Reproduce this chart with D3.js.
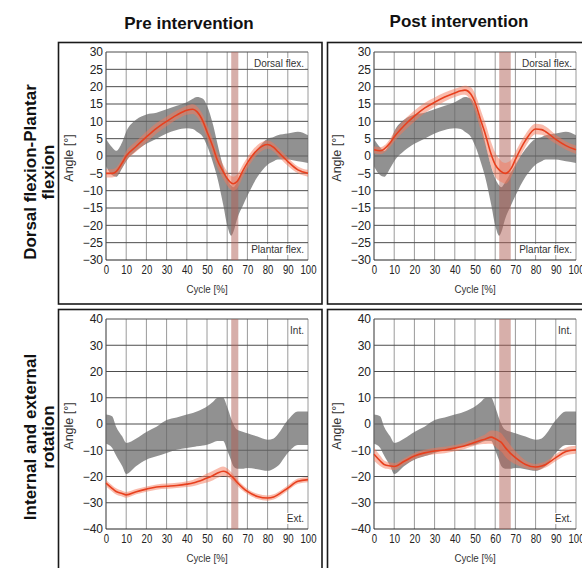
<!DOCTYPE html>
<html><head><meta charset="utf-8">
<script src="https://cdn.jsdelivr.net/npm/d3@7"></script>
<style>body{margin:0;background:#fff}svg{display:block}</style>
</head><body><svg id="c" width="582" height="568"></svg>
<script>
// ---- data ----
const cycle      = [0,3,5,8,10,15,20,25,30,35,40,43,45,48,50,53,55,58,60,62,63,65,68,70,75,80,83,85,90,95,100];
// normative band (same for pre and post)
const normDfLo   = [-3,-5.5,-6,-3.5,-1.5,1.5,3.5,5,6.5,7.5,8,7.8,7,5.5,3,-2,-6,-14,-20,-23,-22,-18,-14,-11.5,-6,-2.5,-1.5,-1,-1,-1.5,-2];
const normDfHi   = [5,2.5,1.5,4,7,10.5,12,12.5,13.5,14.5,15.5,16.5,17,16.5,14.5,9,4,-3,-6.5,-8.5,-9,-7.5,-4.5,-2.5,2,5,5.5,6,6.5,7,6];
const preDfMean  = [-5,-5,-4.5,-2,0,2.8,5.5,8,10,11.8,13.2,13.5,12.8,10,7,2.5,-1,-4.5,-6.5,-7.8,-8,-7.3,-4,-2,1.8,3.3,2.5,1.3,-1.6,-4,-5];
const preDfSd    = [1.2,1.2,1.2,1.3,1.4,1.5,1.6,1.5,1.4,1.3,1.3,1.4,1.5,1.8,2,2.2,2.2,2,2,2,2,2,1.8,1.6,1.4,1.2,1.2,1.2,1.2,1,1];
const postDfMean = [1.8,1.5,2,3.8,5.5,8.8,11.5,13.8,15.5,17,18.2,18.8,19,17.8,15.5,10,6.5,0.5,-2.5,-4,-4.5,-5,-3.5,-1,4.5,7.8,7.6,7,4.8,3,1.8];
const postDfSd   = [1,1,1,1.2,1.4,1.6,1.6,1.5,1.4,1.3,1.2,1.2,1.3,2,2.5,3,3.2,3.5,3.5,3.2,3,3,2.5,2.2,1.8,1.5,1.5,1.5,1.3,1.2,1.2];
const normRotLo  = [-7.5,-9,-12,-16,-19,-16,-13.6,-12.3,-11,-9.8,-9.1,-8.8,-8.5,-8.2,-7.9,-7,-6.5,-6.5,-10,-14,-16,-17,-17,-16.8,-17.2,-17.8,-17,-16,-11,-8,-8];
const normRotHi  = [3.6,3,-1,-4.7,-7.2,-5.5,-3,-1,1.5,2.5,3.6,4.2,4.8,5.8,6.7,8.5,9.9,10,6.5,2,0,-2.2,-3,-3.5,-4.8,-6,-5.5,-4,1.5,4.8,4.8];
const preRotMean = [-22.5,-24.5,-25.7,-26.5,-27,-25.8,-24.8,-24,-23.7,-23.4,-22.9,-22.5,-22,-21.2,-20.6,-19.6,-18.8,-18,-18.5,-19.8,-20.5,-22.3,-24.5,-25.7,-27.6,-28.2,-27.8,-27,-24.4,-21.8,-21.2];
const preRotSd   = [1.2,1.2,1.2,1.1,1.1,1,1,1,1,1,1.1,1.2,1.3,1.5,1.7,1.8,1.8,1.8,1.6,1.4,1.3,1.2,1.1,1,1,1,1,1,1,1,1];
const postRotMean= [-11.5,-14,-15.4,-16,-16.2,-14.2,-12.2,-11,-10.3,-9.9,-9.2,-8.7,-8.3,-7.5,-7,-6.2,-5.8,-5,-5.6,-6.5,-7,-9,-11.5,-12.8,-15.4,-16.4,-16,-15.4,-12.8,-10.5,-9.8];
const postRotSd  = [2.5,2,1.5,1.3,1.3,1.2,1.2,1.2,1.2,1.2,1.2,1.2,1.2,1.2,1.2,1.5,1.8,2.5,3,3.5,3.5,3.5,3,2.5,1.5,1.2,1.2,1.2,1.3,1.5,1.5];

const cycleTicks = [0,10,20,30,40,50,60,70,80,90,100];
const dfTicks    = [-30,-25,-20,-15,-10,-5,0,5,10,15,20,25,30];
const rotTicks   = [-40,-30,-20,-10,0,10,20,30,40];
const preEvent   = [62,65.5];
const postEvent  = [62,67.7];
const columnTitles = ["Pre intervention","Post intervention"];
const rowTitles  = [["Dorsal flexion-Plantar","flexion"],["Internal and external","rotation"]];
const dfNotes    = ["Dorsal flex.","Plantar flex."];
const rotNotes   = ["Int.","Ext."];

// ---- layout ----
const svg = d3.select("#c");
svg.append("rect").attr("width",582).attr("height",568).attr("fill","#fff");
const colX = [[106,308],[374,576]];
const rowY = [[52,260],[319,529]];
const frameX = [[58.5,322],[327.5,592]];
const frameY = [[42.5,304],[309.5,578]];
const FONT = "'Liberation Sans', Arial, sans-serif";

const panels = [
  {r:0,c:0,domain:[-30,30],ticks:dfTicks,lo:normDfLo,hi:normDfHi,mean:preDfMean,sd:preDfSd,ev:preEvent,notes:dfNotes},
  {r:0,c:1,domain:[-30,30],ticks:dfTicks,lo:normDfLo,hi:normDfHi,mean:postDfMean,sd:postDfSd,ev:postEvent,notes:dfNotes},
  {r:1,c:0,domain:[-40,40],ticks:rotTicks,lo:normRotLo,hi:normRotHi,mean:preRotMean,sd:preRotSd,ev:preEvent,notes:rotNotes},
  {r:1,c:1,domain:[-40,40],ticks:rotTicks,lo:normRotLo,hi:normRotHi,mean:postRotMean,sd:postRotSd,ev:postEvent,notes:rotNotes},
];

panels.forEach(p => {
  const [x0,x1] = colX[p.c], [y0,y1] = rowY[p.r];
  const x = d3.scaleLinear().domain([0,100]).range([x0,x1]);
  const y = d3.scaleLinear().domain(p.domain).range([y1,y0]);
  const g = svg.append("g");
  // frame
  g.append("rect").attr("x",frameX[p.c][0]).attr("y",frameY[p.r][0])
    .attr("width",frameX[p.c][1]-frameX[p.c][0]).attr("height",frameY[p.r][1]-frameY[p.r][0])
    .attr("fill","none").attr("stroke","#1a1a1a").attr("stroke-width",1.6);
  // grid
  g.selectAll(".vg").data(cycleTicks).join("line")
    .attr("x1",d=>x(d)).attr("x2",d=>x(d)).attr("y1",y0).attr("y2",y1)
    .attr("stroke",d=>d===0?"#333":"#9a9a9a").attr("stroke-width",1);
  g.selectAll(".hg").data(p.ticks).join("line")
    .attr("x1",x0).attr("x2",x1).attr("y1",d=>y(d)).attr("y2",d=>y(d))
    .attr("stroke",d=>d===p.domain[0]?"#222":"#4d4d4d").attr("stroke-width",1);
  // normative band
  const idx = d3.range(cycle.length);
  const area = (lo,hi) => d3.area().x(i=>x(cycle[i])).y0(i=>y(lo(i))).y1(i=>y(hi(i))).curve(d3.curveMonotoneX);
  g.append("path").datum(idx).attr("d",area(i=>p.lo[i],i=>p.hi[i]))
    .attr("fill","#666").attr("fill-opacity",0.72);
  // event band
  g.append("rect").attr("x",x(p.ev[0])).attr("width",x(p.ev[1])-x(p.ev[0]))
    .attr("y",y0).attr("height",y1-y0).attr("fill","rgb(175,95,85)").attr("fill-opacity",0.5);
  // SD band
  g.append("path").datum(idx).attr("d",area(i=>p.mean[i]-p.sd[i],i=>p.mean[i]+p.sd[i]))
    .attr("fill","rgb(245,120,90)").attr("fill-opacity",0.5);
  // mean line
  g.append("path").datum(idx)
    .attr("d",d3.line().x(i=>x(cycle[i])).y(i=>y(p.mean[i])).curve(d3.curveMonotoneX))
    .attr("fill","none").attr("stroke","#e8401e").attr("stroke-width",1.6);
  // axes (labels only)
  const ya = g.append("g").attr("transform",`translate(${x0},0)`)
    .call(d3.axisLeft(y).tickValues(p.ticks).tickSize(0).tickPadding(3));
  ya.select(".domain").remove();
  ya.selectAll("text").attr("font-family",FONT).attr("font-size",12).attr("fill","#222");
  const xa = g.append("g").attr("transform",`translate(0,${y1})`)
    .call(d3.axisBottom(x).tickValues(cycleTicks).tickSize(0).tickPadding(5));
  xa.select(".domain").remove();
  xa.selectAll("text").attr("font-family",FONT).attr("font-size",12).attr("fill","#222")
    .attr("transform","scale(0.8,1)");
  // axis titles
  g.append("text").attr("transform",`translate(${(x0+x1)/2},${y1+33}) scale(0.85,1)`)
    .attr("text-anchor","middle").attr("font-family",FONT).attr("font-size",11.5).attr("fill","#333").text("Cycle [%]");
  g.append("text").attr("transform",`translate(${x0-33},${(y0+y1)/2+2}) rotate(-90)`)
    .attr("text-anchor","middle").attr("font-family",FONT).attr("font-size",12.5).attr("fill","#333").text("Angle [°]");
  // notes
  const noteY = [y(p.domain[1])+11, y(p.domain[0])-11];
  p.notes.forEach((t,k)=>{
    const tx = g.append("text").attr("x",x1-4).attr("y",noteY[k]+4)
      .attr("text-anchor","end").attr("font-family",FONT).attr("font-size",10).attr("fill","#333").text(t);
    const b = tx.node().getBBox();
    g.insert("rect", () => tx.node()).attr("x",b.x-1).attr("y",b.y).attr("width",b.width+2).attr("height",b.height).attr("fill","#fff");
  });
});

// column titles
[[189,29],[459,27]].forEach((pos,i)=>{
  svg.append("text").attr("x",pos[0]).attr("y",pos[1]).attr("text-anchor","middle")
    .attr("font-family",FONT).attr("font-weight","bold").attr("font-size",17).attr("fill","#111").text(columnTitles[i]);
});
// row titles
[172,437].forEach((cy,r)=>{
  rowTitles[r].forEach((t,k)=>{
    svg.append("text").attr("transform",`translate(${36+k*18},${cy}) rotate(-90)`).attr("text-anchor","middle")
      .attr("font-family",FONT).attr("font-weight","bold").attr("font-size",17).attr("fill","#111").text(t);
  });
});
</script></body></html>
